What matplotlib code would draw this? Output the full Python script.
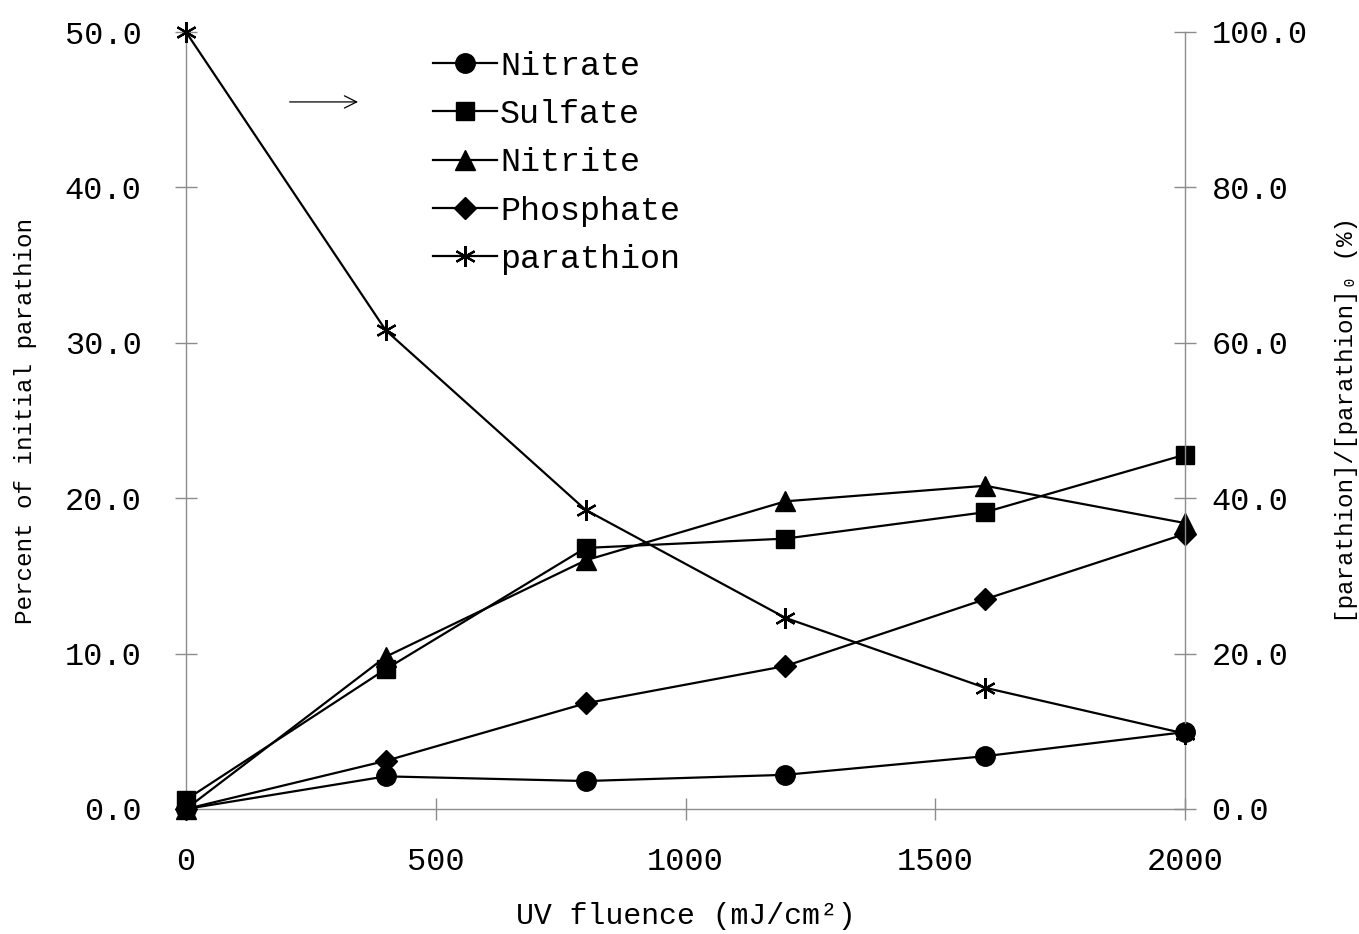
import matplotlib
matplotlib.use("Agg")
import matplotlib.pyplot as plt

plt.rcParams['font.family'] = ['Liberation Mono', 'DejaVu Sans Mono']

uv = [0, 400, 800, 1200, 1600, 2000]
nitrate = [0.0, 2.1, 1.8, 2.2, 3.4, 4.95]
sulfate = [0.6, 9.0, 16.8, 17.4, 19.1, 22.8]
nitrite = [0.0, 9.8, 16.0, 19.8, 20.8, 18.4]
phosphate = [0.0, 3.1, 6.8, 9.2, 13.5, 17.7]
parathion = [100.0, 61.6, 38.5, 24.6, 15.6, 9.7]

left_ticks = [0, 10, 20, 30, 40, 50]
right_ticks = [0, 20, 40, 60, 80, 100]
x_ticks = [0, 500, 1000, 1500, 2000]

fig = plt.figure(figsize=(13.59, 9.34), dpi=100)
ax = fig.add_axes([186/1359, 125/934, 999/1359, 777/934])
ax2 = ax.twinx()

gray = '#8c8c8c'
lw = 1.6
ms = 14
ax.plot(uv, nitrate, color='black', lw=lw, marker='o', ms=ms, label='Nitrate', clip_on=False, zorder=5)
ax.plot(uv, sulfate, color='black', lw=lw, marker='s', ms=ms-1, label='Sulfate', clip_on=False, zorder=5)
ax.plot(uv, nitrite, color='black', lw=lw, marker='^', ms=ms, label='Nitrite', clip_on=False, zorder=5)
ax.plot(uv, phosphate, color='black', lw=lw, marker='D', ms=ms-3, label='Phosphate', clip_on=False, zorder=5)
ax2.plot(uv, parathion, color='black', lw=lw, marker=(6, 2, 0), ms=ms+1, mew=1.6,
         label='parathion', clip_on=False, zorder=5)

ax.set_xlim(0, 2000)
ax.set_ylim(0, 50)
ax2.set_ylim(0, 100)
ax.set_xticks(x_ticks)
ax.set_xticklabels([str(v) for v in x_ticks])
ax.set_yticks(left_ticks)
ax.set_yticklabels([f'{v:.1f}' for v in left_ticks])
ax2.set_yticks(right_ticks)
ax2.set_yticklabels([f'{v:.1f}' for v in right_ticks])

for a in (ax, ax2):
    a.spines['top'].set_visible(False)
    for s in a.spines.values():
        s.set_color(gray)
        s.set_linewidth(1.0)
    a.set_facecolor('none')
ax2.spines['left'].set_visible(False)
ax2.spines['bottom'].set_visible(False)
ax.spines['right'].set_visible(False)

ax.tick_params(axis='x', direction='inout', length=16, width=1, color=gray, labelsize=23, pad=19)
ax.tick_params(axis='y', direction='inout', length=16, width=1, color=gray, labelsize=23, pad=24)
ax2.tick_params(axis='y', direction='inout', length=16, width=1, color=gray, labelsize=23, pad=11)

ax.set_xlabel('UV fluence (mJ/cm²)', fontsize=21.5, labelpad=18)
ax.set_ylabel('Percent of initial parathion', fontsize=17.5, labelpad=20)
ax2.set_ylabel('[parathion]/[parathion]₀ (%)', fontsize=17.5, labelpad=20)

ax.annotate('', xy=(350, 45.5), xytext=(202, 45.5),
            arrowprops=dict(arrowstyle='->', color='black', lw=0.9, mutation_scale=22))

h1, l1 = ax.get_legend_handles_labels()
h2, l2 = ax2.get_legend_handles_labels()
leg = ax.legend(h1 + h2, l1 + l2, loc='upper left', bbox_to_anchor=(234/999, 0.993),
                frameon=False, fontsize=24, handlelength=1.9, handletextpad=0.1,
                labelspacing=0.52, borderaxespad=0)

fig.savefig('out.png', dpi=100)
